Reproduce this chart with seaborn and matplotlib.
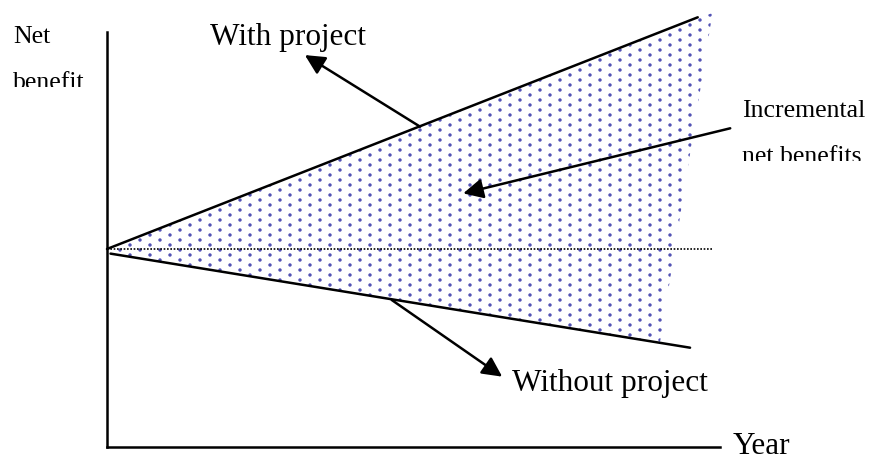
import numpy as np
import matplotlib
matplotlib.use("Agg")
import matplotlib.pyplot as plt
import matplotlib.hatch as mhatch
from matplotlib.transforms import Bbox, TransformedBbox
import seaborn as sns

# ---------------- data ----------------
with_years = [0.0, 10.0]
with_values = [0.0, 10.0]

without_years = [0.06, 9.87]
without_values = [-0.2, -4.26]

baseline_years = [0.0, 10.25]
baseline_values = [0.0, 0.0]

# outline of the shaded "incremental net benefits" region
shade_years = [0.0, 10.25, 9.36, 0.06]
shade_values = [0.0, 10.19, -4.05, -0.2]

labels = {
    "y1": "Net",
    "y2": "benefit",
    "x": "Year",
    "with": "With project",
    "without": "Without project",
    "inc1": "Incremental",
    "inc2": "net benefits",
}


# ---------------- dotted hatch (column-staggered dots) ----------------
class ColumnDots(mhatch.SmallFilledCircles):
    def __init__(self, hatch, density):
        self.num_rows = hatch.count('.') * 10
        mhatch.Circles.__init__(self, hatch, density)

    def set_vertices_and_codes(self, vertices, codes):
        super().set_vertices_and_codes(vertices, codes)
        vertices[:] = vertices[:, ::-1].copy()


_idx = mhatch._hatch_types.index(mhatch.SmallFilledCircles)
mhatch._hatch_types[_idx] = ColumnDots

# ---------------- style ----------------
sns.set_theme(style="white")
plt.rcParams["font.family"] = ["Liberation Serif", "DejaVu Serif"]
plt.rcParams["hatch.linewidth"] = 1.0

W, H = 870, 461
fig = plt.figure(figsize=(W / 100, H / 100), dpi=100)
ax = fig.add_axes([107 / W, (H - 447) / H, (720 - 107) / W, (447 - 32) / H])
ax.set_xlim(0, 10.377)
ax.set_ylim(-8.546, 9.366)

# shaded region
ax.fill(shade_years, shade_values, facecolor="none", edgecolor="#5050b4",
        linewidth=0, hatch=".", clip_on=False, zorder=1)

# lines
sns.lineplot(x=with_years, y=with_values, ax=ax, color="black", linewidth=1.8,
             sort=False, estimator=None, clip_on=False, zorder=3)
sns.lineplot(x=without_years, y=without_values, ax=ax, color="black", linewidth=1.8,
             sort=False, estimator=None, clip_on=False, zorder=3)
ax.plot(baseline_years, baseline_values, color="black", linewidth=1.2,
        linestyle=(0, (1, 1)), clip_on=False, zorder=2)

# axes look
for s in ["top", "right"]:
    ax.spines[s].set_visible(False)
for s in ["left", "bottom"]:
    ax.spines[s].set_color("black")
    ax.spines[s].set_linewidth(1.8)
ax.set_xticks([])
ax.set_yticks([])
ax.set_xlabel("")
ax.set_ylabel("")
ax.patch.set_alpha(0)

# arrows
arrow_kw = dict(arrowstyle="-|>", color="black", lw=1.8, mutation_scale=30,
                shrinkA=0, shrinkB=0)
ax.annotate("", xy=(3.35, 8.37), xytext=(5.30, 5.28),
            arrowprops=arrow_kw, annotation_clip=False, zorder=4)
ax.annotate("", xy=(6.03, 2.40), xytext=(10.55, 5.21),
            arrowprops=arrow_kw, annotation_clip=False, zorder=4)
ax.annotate("", xy=(6.69, -5.51), xytext=(4.82, -2.20),
            arrowprops=arrow_kw, annotation_clip=False, zorder=4)


def ftext(px, py, s, size, clip_py=None):
    t = fig.text(px / W, 1 - py / H, s, fontsize=size, color="black",
                 ha="left", va="baseline")
    if clip_py is not None:
        bb = TransformedBbox(Bbox([[0, 1 - clip_py / H], [1, 1]]), fig.transFigure)
        t.set_clip_box(bb)
        t.set_clip_on(True)
    return t


small, big = 18.5, 22.5
ftext(13, 43, labels["y1"], small)
ftext(13, 89, labels["y2"], small, clip_py=87.5)
ftext(210, 45, labels["with"], big)
ftext(742, 117, labels["inc1"], small)
ftext(742, 163, labels["inc2"], small, clip_py=161.5)
ftext(512, 391, labels["without"], big)
ftext(733, 454, labels["x"], big)

fig.savefig("out.png", dpi=100)
